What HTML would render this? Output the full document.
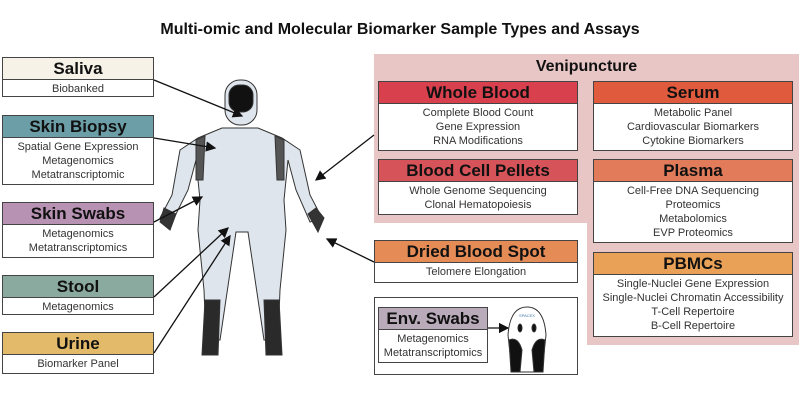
<!DOCTYPE html>
<html><head><style>
body{margin:0;width:800px;height:400px;background:#fff;position:relative;font-family:"Liberation Sans",sans-serif;overflow:hidden}
.t{position:absolute;left:0;width:800px;top:21px;text-align:center;font-weight:bold;font-size:16px;color:#111}
.bx{position:absolute;border:1.5px solid #444;background:#fff;box-sizing:border-box;text-align:center;color:#333}
.bx .h{border-bottom:1.5px solid #444;font-weight:bold;color:#111;font-size:17px;line-height:21px}
.bx .b{font-size:11px;line-height:14px;padding-top:2px}
.pk{position:absolute;background:#e8c6c6}
</style></head><body>
<div class="t">Multi-omic and Molecular Biomarker Sample Types and Assays</div>
<div class="pk" style="left:374px;top:54px;width:425px;height:169px"></div>
<div class="pk" style="left:587px;top:220px;width:212px;height:125px"></div>
<div style="position:absolute;top:58px;left:374px;width:425px;text-align:center;font-weight:bold;font-size:16px;color:#111">Venipuncture</div>

<div class="bx" style="left:2px;top:57px;width:152px;height:40px"><div class="h" style="background:#f6f2e8">Saliva</div><div class="b">Biobanked</div></div>
<div class="bx" style="left:2px;top:115px;width:152px;height:70px"><div class="h" style="background:#6c9ea8">Skin Biopsy</div><div class="b">Spatial Gene Expression<br>Metagenomics<br>Metatranscriptomic</div></div>
<div class="bx" style="left:2px;top:202px;width:152px;height:56px"><div class="h" style="background:#b792b2">Skin Swabs</div><div class="b">Metagenomics<br>Metatranscriptomics</div></div>
<div class="bx" style="left:2px;top:275px;width:152px;height:40px"><div class="h" style="background:#8aa99f">Stool</div><div class="b">Metagenomics</div></div>
<div class="bx" style="left:2px;top:332px;width:152px;height:42px"><div class="h" style="background:#e3b96a">Urine</div><div class="b">Biomarker Panel</div></div>

<div class="bx" style="left:378px;top:81px;width:200px;height:70px"><div class="h" style="background:#d8404e">Whole Blood</div><div class="b">Complete Blood Count<br>Gene Expression<br>RNA Modifications</div></div>
<div class="bx" style="left:378px;top:159px;width:200px;height:56px"><div class="h" style="background:#d65359">Blood Cell Pellets</div><div class="b">Whole Genome Sequencing<br>Clonal Hematopoiesis</div></div>
<div class="bx" style="left:593px;top:81px;width:200px;height:70px"><div class="h" style="background:#e05a3e">Serum</div><div class="b">Metabolic Panel<br>Cardiovascular Biomarkers<br>Cytokine Biomarkers</div></div>
<div class="bx" style="left:593px;top:159px;width:200px;height:84px"><div class="h" style="background:#e27b5a">Plasma</div><div class="b">Cell-Free DNA Sequencing<br>Proteomics<br>Metabolomics<br>EVP Proteomics</div></div>
<div class="bx" style="left:593px;top:252px;width:200px;height:85px"><div class="h" style="background:#e9a157">PBMCs</div><div class="b">Single-Nuclei Gene Expression<br>Single-Nuclei Chromatin Accessibility<br>T-Cell Repertoire<br>B-Cell Repertoire</div></div>
<div class="bx" style="left:374px;top:240px;width:204px;height:43px"><div class="h" style="background:#e58b56">Dried Blood Spot</div><div class="b">Telomere Elongation</div></div>
<div class="bx" style="left:374px;top:297px;width:204px;height:78px;border-width:1px"></div>
<div class="bx" style="left:378px;top:307px;width:110px;height:56px"><div class="h" style="background:#b9abb9">Env. Swabs</div><div class="b">Metagenomics<br>Metatranscriptomics</div></div>

<svg width="800" height="400" style="position:absolute;left:0;top:0">
<defs><marker id="a" markerWidth="8" markerHeight="8" refX="7" refY="4" orient="auto"><path d="M0,0L8,4L0,8z" fill="#111"/></marker></defs>
<g stroke="#333" stroke-width="1">
<path d="M222,128 L258,128 L282,138 L300,150 L310,195 L322,218 L310,222 L296,190 L288,160 L284,200 L286,230 L280,290 L278,340 L264,340 L248,232 L236,232 L220,340 L206,340 L204,290 L198,230 L200,200 L196,160 L188,190 L172,222 L160,218 L172,195 L180,150 L198,138 Z" fill="#dfe5ec"/>
<path d="M164,208 L176,214 L170,230 L160,222 Z M316,208 L324,218 L318,232 L308,214 Z" fill="#333"/>
<path d="M205,300 L220,300 L218,355 L202,355 Z M264,300 L279,300 L282,355 L266,355 Z" fill="#2a2a2a"/>
<rect x="225" y="80" width="32" height="45" rx="15" fill="#dfe5ec"/>
<rect x="229" y="85" width="24" height="27" rx="10" fill="#111"/>
<path d="M196,140 L205,136 L203,180 L196,180 Z M284,140 L275,136 L277,180 L284,180 Z" fill="#555"/>
</g>
<g stroke="#111" stroke-width="1.3" marker-end="url(#a)">
<line x1="154" y1="80" x2="242" y2="116"/>
<line x1="154" y1="138" x2="215" y2="148"/>
<line x1="154" y1="222" x2="202" y2="197"/>
<line x1="154" y1="297" x2="228" y2="228"/>
<line x1="154" y1="353" x2="230" y2="236"/>
<line x1="374" y1="135" x2="316" y2="180"/>
<line x1="374" y1="262" x2="327" y2="239"/>
<line x1="488" y1="328" x2="508" y2="328"/>
</g>
<g stroke="#333" stroke-width="1">
<path d="M512,372 L508,335 Q510,307 527,307 Q544,307 546,335 L542,372 Z" fill="#fff"/>
<path d="M509,340 Q518,336 522,350 L520,372 L511,372 Z M545,340 Q536,336 532,350 L534,372 L543,372 Z" fill="#111"/>
<ellipse cx="520" cy="328" rx="2" ry="4" fill="#111"/><ellipse cx="534" cy="328" rx="2" ry="4" fill="#111"/>
</g>
<text x="527" y="317" font-size="4" text-anchor="middle" fill="#47a" font-family="Liberation Sans">SPACEX</text>
</svg>
</body></html>
